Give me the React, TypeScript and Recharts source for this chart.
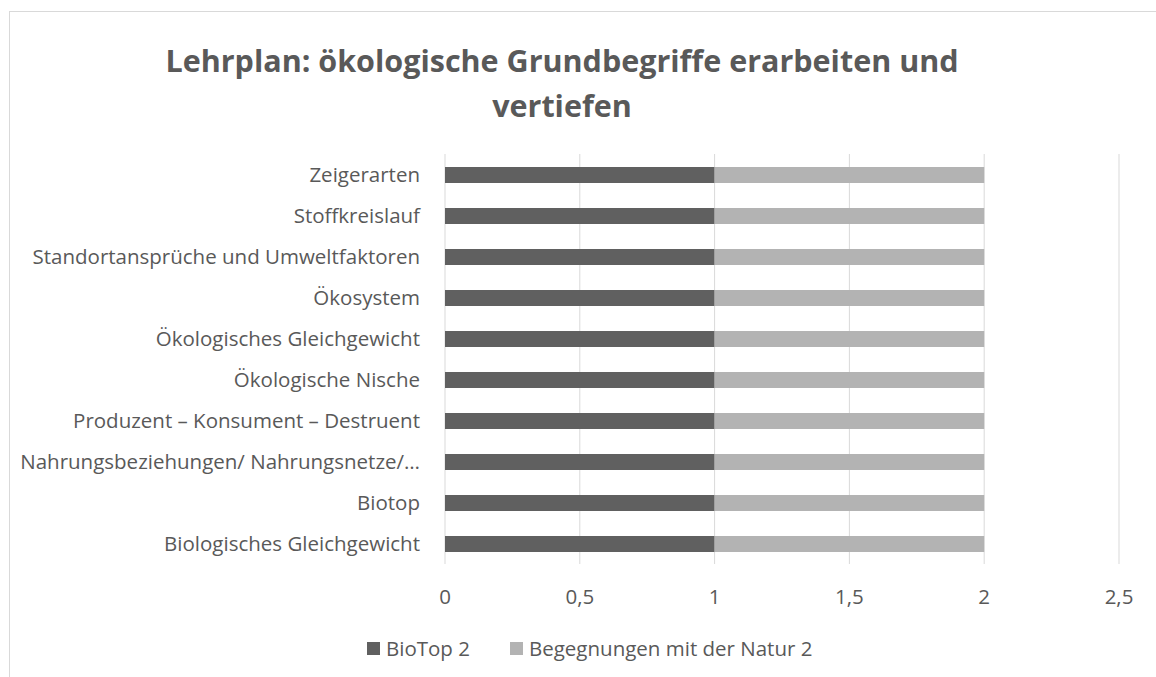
import { BarChart, Bar, XAxis, YAxis, CartesianGrid } from 'recharts'

const categories = [
  'Zeigerarten',
  'Stoffkreislauf',
  'Standortansprüche und Umweltfaktoren',
  'Ökosystem',
  'Ökologisches Gleichgewicht',
  'Ökologische Nische',
  'Produzent – Konsument – Destruent',
  'Nahrungsbeziehungen/ Nahrungsnetze/…',
  'Biotop',
  'Biologisches Gleichgewicht',
]
const bioTop = [1, 1, 1, 1, 1, 1, 1, 1, 1, 1]
const begegnungen = [1, 1, 1, 1, 1, 1, 1, 1, 1, 1]
const xTicks = [0, 0.5, 1, 1.5, 2, 2.5]

const series = [
  { key: 'bioTop', name: 'BioTop 2', color: '#606060' },
  { key: 'begegnungen', name: 'Begegnungen mit der Natur 2', color: '#b3b3b3' },
]

const FONT = '"Open Sans", sans-serif'
const TEXT = '#595959'

const data = categories.map((name, i) => ({
  name,
  bioTop: bioTop[i],
  begegnungen: begegnungen[i],
}))

function ChartLegend() {
  return (
    <div
      style={{
        position: 'absolute',
        left: 357,
        top: 622,
        display: 'flex',
        gap: 40,
        fontFamily: FONT,
        fontSize: 20.5,
        lineHeight: '28px',
        color: TEXT,
        whiteSpace: 'nowrap',
      }}
    >
      {series.map((s) => (
        <div key={s.key} style={{ display: 'flex', alignItems: 'center', gap: 6 }}>
          <span style={{ width: 13, height: 13, background: s.color, display: 'inline-block' }} />
          <span>{s.name}</span>
        </div>
      ))}
    </div>
  )
}

export default function App() {
  return (
    <div
      style={{
        position: 'absolute',
        left: 9,
        top: 11,
        width: 1180,
        height: 700,
        border: '1px solid #d9d9d9',
        background: '#fff',
      }}
    >
      <div
        style={{
          position: 'absolute',
          left: 0,
          top: 26,
          width: 1104,
          textAlign: 'center',
          fontFamily: FONT,
          fontWeight: 700,
          fontSize: 30.5,
          lineHeight: '45px',
          color: TEXT,
        }}
      >
        Lehrplan: ökologische Grundbegriffe erarbeiten und
        <br />
        vertiefen
      </div>
      <BarChart
        width={1140}
        height={680}
        data={data}
        layout="vertical"
        barSize={16}
        margin={{ top: 142, right: 31, bottom: 68, left: 0 }}
      >
        <CartesianGrid horizontal={false} stroke="#d9d9d9" strokeWidth={1} />
        <XAxis
          type="number"
          domain={[0, 2.5]}
          ticks={xTicks}
          axisLine={false}
          tickLine={false}
          tickSize={0}
          tickMargin={25}
          height={60}
          tickFormatter={(v: number) => String(v).replace('.', ',')}
          tick={{ fontFamily: FONT, fontSize: 20.5, fill: TEXT }}
        />
        <YAxis
          type="category"
          dataKey="name"
          width={435}
          axisLine={false}
          tickLine={false}
          tickSize={0}
          tickMargin={25}
          interval={0}
          tick={{ fontFamily: FONT, fontSize: 20.5, fill: TEXT }}
        />
        {series.map((s) => (
          <Bar
            key={s.key}
            dataKey={s.key}
            name={s.name}
            stackId="a"
            fill={s.color}
            isAnimationActive={false}
          />
        ))}
      </BarChart>
      <ChartLegend />
    </div>
  )
}
